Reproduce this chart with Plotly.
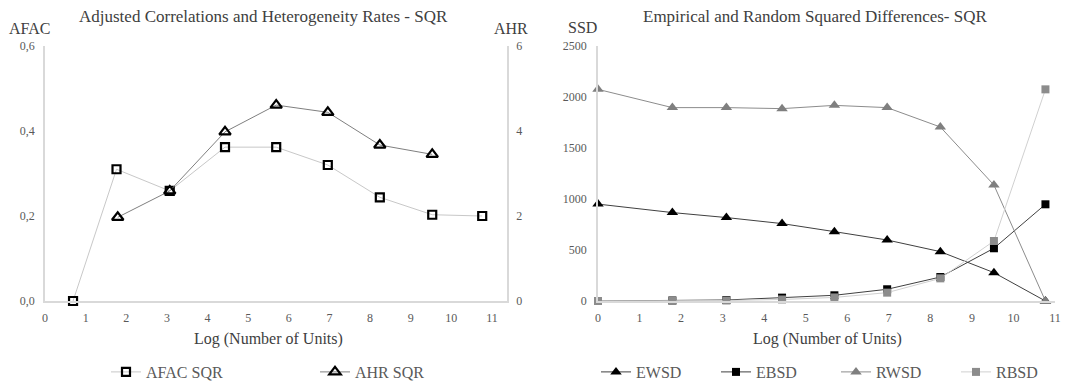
import plotly.graph_objects as go

# ---- Left chart data ----
afac_x = [0.69, 1.76, 3.07, 4.43, 5.69, 6.96, 8.24, 9.53, 10.76]
afac_y = [0.0, 0.31, 0.259, 0.362, 0.362, 0.32, 0.244, 0.203, 0.200]
ahr_x = [1.79, 3.07, 4.43, 5.69, 6.96, 8.24, 9.53]
ahr_y = [1.97, 2.59, 3.98, 4.61, 4.44, 3.67, 3.45]

# ---- Right chart data ----
ssd_x = [0.0, 1.79, 3.09, 4.43, 5.69, 6.96, 8.24, 9.53, 10.77]
ewsd = [950, 867, 818, 759, 680, 598, 484, 278, 0]
ebsd = [0, 5, 10, 33, 56, 115, 235, 517, 948]
rwsd = [2075, 1896, 1896, 1886, 1918, 1896, 1706, 1137, 0]
rbsd = [0, 3, 5, 15, 35, 82, 222, 588, 2075]

left_y_ticks = [0, 0.2, 0.4, 0.6]
right_y_ticks = [0, 2, 4, 6]
x_ticks = list(range(0, 12))
ssd_ticks = [0, 500, 1000, 1500, 2000, 2500]

FONT = "Liberation Serif, Times New Roman, serif"
TXT = "#595959"
AX = "#d9d9d9"
W, H = 1068, 388

def fx(px):
    return px / W

def fy(py):
    return 1 - py / H

fig = go.Figure()

fig.add_trace(go.Scatter(
    x=afac_x, y=afac_y, name="AFAC SQR", mode="lines+markers", cliponaxis=False,
    line=dict(color="#c8c8c8", width=1),
    marker=dict(symbol="square-open", size=8, color="black", line=dict(width=2.2)),
    xaxis="x", yaxis="y", legend="legend"))
fig.add_trace(go.Scatter(
    x=ahr_x, y=ahr_y, name="AHR SQR", mode="lines+markers", cliponaxis=False,
    line=dict(color="#7f7f7f", width=1),
    marker=dict(symbol="triangle-up-open", size=10, color="black", line=dict(width=2.2)),
    xaxis="x", yaxis="y2", legend="legend"))

fig.add_trace(go.Scatter(
    x=ssd_x, y=ewsd, name="EWSD", mode="lines+markers", cliponaxis=False,
    line=dict(color="#404040", width=1),
    marker=dict(symbol="triangle-up", size=10, color="black"),
    xaxis="x3", yaxis="y3", legend="legend2"))
fig.add_trace(go.Scatter(
    x=ssd_x, y=ebsd, name="EBSD", mode="lines+markers", cliponaxis=False,
    line=dict(color="#404040", width=1),
    marker=dict(symbol="square", size=8, color="black"),
    xaxis="x3", yaxis="y3", legend="legend2"))
fig.add_trace(go.Scatter(
    x=ssd_x, y=rwsd, name="RWSD", mode="lines+markers", cliponaxis=False,
    line=dict(color="#8c8c8c", width=1),
    marker=dict(symbol="triangle-up", size=10, color="#7f7f7f"),
    xaxis="x3", yaxis="y3", legend="legend2"))
fig.add_trace(go.Scatter(
    x=ssd_x, y=rbsd, name="RBSD", mode="lines+markers", cliponaxis=False,
    line=dict(color="#d0d0d0", width=1),
    marker=dict(symbol="square", size=8, color="#8c8c8c"),
    xaxis="x3", yaxis="y3", legend="legend2"))

tickfont = dict(family=FONT, size=12, color=TXT)
ydom = [fy(301), fy(46)]
common = dict(showgrid=False, zeroline=False, showline=True, linecolor=AX, linewidth=1.5,
              ticks="", tickfont=tickfont, automargin=False, ticklabeloverflow="allow")

fig.update_layout(
    width=W, height=H,
    margin=dict(l=0, r=0, t=0, b=0, autoexpand=False),
    paper_bgcolor="white", plot_bgcolor="white",
    separators=", ",
    font=dict(family=FONT, color=TXT, size=13),
    xaxis=dict(domain=[fx(45), fx(507)], range=[0, 11.37], tickvals=x_ticks,
               anchor="y", ticklabelstandoff=5, **common),
    yaxis=dict(domain=ydom, range=[0, 0.6], tickvals=left_y_ticks, tickformat=".1f",
               anchor="x", ticklabelstandoff=6, **common),
    yaxis2=dict(domain=ydom, range=[0, 6], tickvals=right_y_ticks, overlaying="y",
                side="right", anchor="x", ticklabelstandoff=5, **common),
    xaxis3=dict(domain=[fx(598), fx(1055)], range=[0, 11], tickvals=x_ticks,
                anchor="y3", ticklabelstandoff=5, **common),
    yaxis3=dict(domain=ydom, range=[0, 2500], tickvals=ssd_ticks,
                anchor="x3", ticklabelstandoff=7, **common),
    legend=dict(orientation="h", x=fx(106), y=fy(372), yanchor="middle", xanchor="left",
                font=dict(family=FONT, size=16, color=TXT), entrywidth=164,
                entrywidthmode="pixels", bgcolor="rgba(0,0,0,0)"),
    legend2=dict(orientation="h", x=fx(596), y=fy(372), yanchor="middle", xanchor="left",
                 font=dict(family=FONT, size=16, color=TXT), entrywidth=75,
                 entrywidthmode="pixels", bgcolor="rgba(0,0,0,0)"),
    showlegend=True,
)

ann = [
    dict(text="Adjusted Correlations and Heterogeneity Rates - SQR", x=fx(263), y=fy(17), size=17),
    dict(text="Empirical and Random Squared Differences- SQR", x=fx(815), y=fy(17), size=17),
    dict(text="AFAC", x=fx(30), y=fy(29), size=16),
    dict(text="AHR", x=fx(511), y=fy(29), size=16),
    dict(text="SSD", x=fx(582), y=fy(28), size=16),
    dict(text="Log (Number of Units)", x=fx(268), y=fy(339), size=16),
    dict(text="Log (Number of Units)", x=fx(827), y=fy(339), size=16),
]
for a in ann:
    size = a.pop("size")
    fig.add_annotation(xref="paper", yref="paper", showarrow=False,
                       xanchor="center", yanchor="middle",
                       font=dict(family=FONT, size=size, color="#404040"), **a)

fig.write_html("out.html", config={"displayModeBar": False},
               post_script="document.body.style.margin='0';")
